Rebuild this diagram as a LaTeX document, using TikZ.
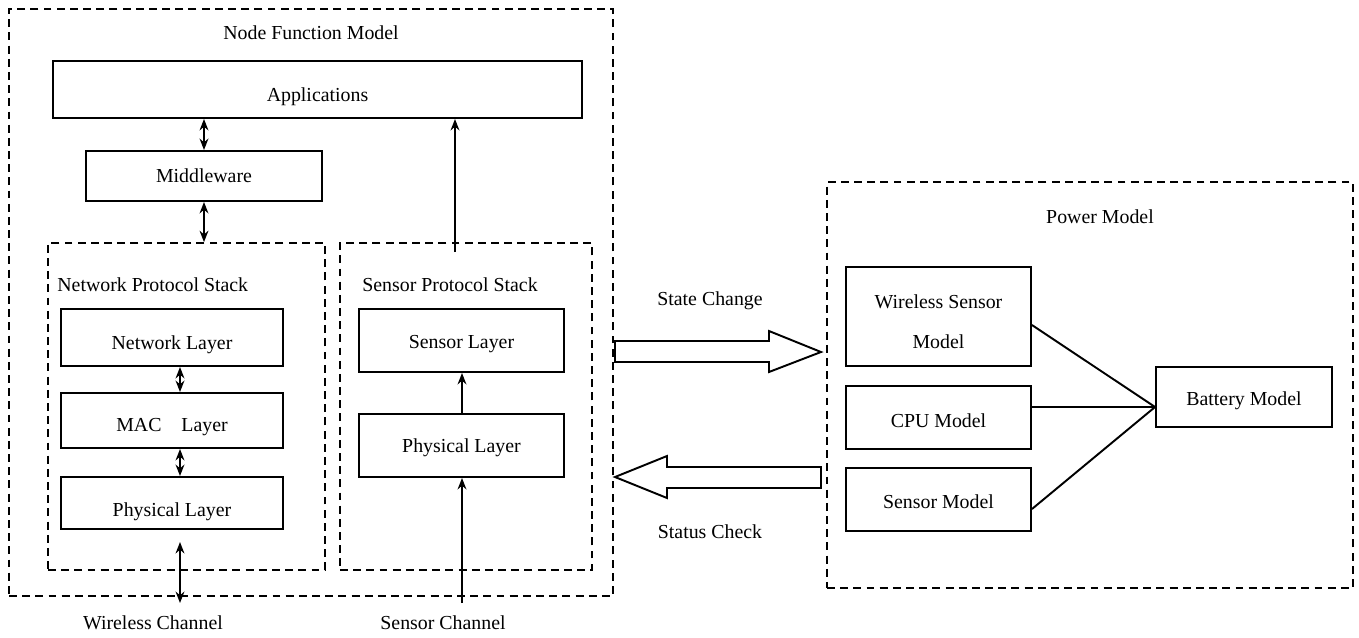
\documentclass[tikz,border=0pt]{standalone}
\usepackage{fontspec}
\setmainfont{Liberation Serif}
\usetikzlibrary{fit,arrows.meta,calc}
\begin{document}
\begin{tikzpicture}[x=0.02cm,y=-0.02cm,
  font=\fontsize{11.3pt}{13.5pt}\selectfont,
  solidbox/.style={draw,line width=1.1pt,inner sep=0pt,rectangle},
  dashbox/.style={draw,line width=0.95pt,inner sep=0pt,rectangle,dash pattern=on 4.5pt off 3pt},
  txt/.style={inner sep=0pt},
  tip/.style={-{Stealth[length=6.5pt,width=5pt]},line width=1.1pt},
  dtip/.style={{Stealth[length=6.5pt,width=5pt]}-{Stealth[length=6.5pt,width=5pt]},line width=1.1pt},
  blockarrow/.style={draw,line width=1.1pt,fill=white,line join=miter}]
\useasboundingbox (0,0) rectangle (1359,637);
% Node function model
\node[dashbox,fit={(9,9) (613,596)}] (nfm) {};
\node[txt] (nfmlabel) at (311,33) {Node Function Model};
\node[solidbox,fit={(53,61) (582,118)},label={[name=applabel,yshift=-4pt]center:Applications}] (app) {};
\node[solidbox,fit={(86,151) (322,201)},label={[name=midlabel]center:Middleware}] (mid) {};
\node[dashbox,fit={(48,243) (325,570)}] (nps) {};
\node[dashbox,fit={(340,243) (592,570)}] (sps) {};
\node[txt,anchor=west] (npslabel) at (57,285) {Network Protocol Stack};
\node[txt,anchor=west] (spslabel) at (362,285) {Sensor Protocol Stack};
\node[solidbox,fit={(61,309) (283,366)},label={[name=nllabel,yshift=-4pt]center:Network Layer}] (nl) {};
\node[solidbox,fit={(61,393) (283,448)},label={[name=maclabel,yshift=-4pt]center:MAC\quad Layer}] (mac) {};
\node[solidbox,fit={(61,477) (283,529)},label={[name=pl1label,yshift=-5pt]center:Physical Layer}] (pl1) {};
\node[solidbox,fit={(359,309) (564,372)},label={[name=sllabel,yshift=-2pt]center:Sensor Layer}] (sl) {};
\node[solidbox,fit={(359,414) (564,477)},label={[name=pl2label,yshift=-1pt]center:Physical Layer}] (pl2) {};
\node[txt] (wclabel) at (153,623) {Wireless Channel};
\node[txt] (sclabel) at (443,623) {Sensor Channel};
% connectors in node function model
\draw[dtip] (mid.north) -- (mid.north |- app.south);
\draw[dtip] (mid.south) -- (mid.south |- nps.north);
\coordinate (sup) at (455,252);
\draw[tip] (sup) -- (sup |- app.south);
\coordinate (nlb) at ($(nl.south)+(8,0)$);
\draw[dtip] (nlb) -- (nlb |- mac.north);
\coordinate (macb) at ($(mac.south)+(8,0)$);
\draw[dtip] (macb) -- (macb |- pl1.north);
\coordinate (wtop) at (180,542);
\coordinate (wbot) at (180,603);
\draw[dtip] (wtop) -- (wbot);
\coordinate (sbot) at (462,603);
\draw[tip] (sbot) -- (sbot |- pl2.south);
\draw[tip] (pl2.north -| sbot) -- (sbot |- sl.south);
% block arrows
\draw[blockarrow] (615,341) -- (769,341) -- (769,331) -- (821,352) -- (769,372) -- (769,362) -- (615,362) -- cycle;
\draw[blockarrow] (821,467) -- (667,467) -- (667,456) -- (615,477) -- (667,498) -- (667,488) -- (821,488) -- cycle;
\node[txt] (sclbl) at (710,301) {State Change};
\node[txt] (stlbl) at (710,532) {Status Check};
% power model
\node[dashbox,fit={(827,182) (1353,588)}] (pm) {};
\node[txt] (pmlabel) at (1100,217) {Power Model};
\node[solidbox,fit={(846,267) (1031,366)},label={[name=wsmlabel,align=center,yshift=-3pt]center:Wireless Sensor\\[9.5pt]Model}] (wsm) {};
\node[solidbox,fit={(846,386) (1031,449)},label={[name=cpulabel,yshift=-2pt]center:CPU Model}] (cpu) {};
\node[solidbox,fit={(846,468) (1031,531)},label={[name=smlabel,yshift=-1pt]center:Sensor Model}] (smod) {};
\node[solidbox,fit={(1156,367) (1332,427)},label={[name=batlabel,yshift=-2pt]center:Battery Model}] (bat) {};
\coordinate (bj) at ($(bat.west)+(0,10)$);
\draw[line width=1.1pt] (wsm.east |- 0,325) -- (bj);
\draw[line width=1.1pt] (cpu.east |- bj) -- (bj);
\draw[line width=1.1pt] (smod.east |- 0,509) -- (bj);
\end{tikzpicture}
\end{document}
